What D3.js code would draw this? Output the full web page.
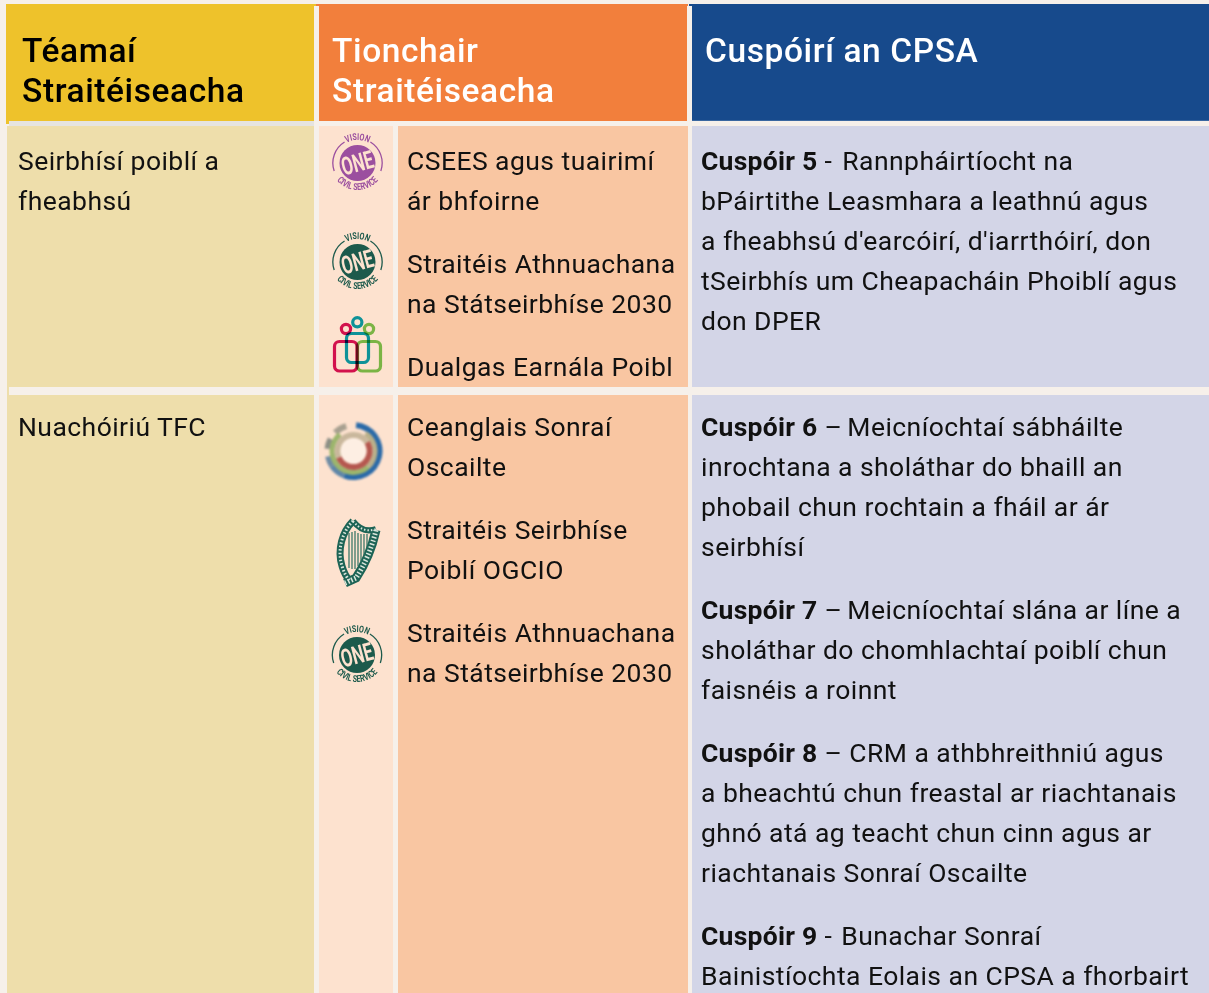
<!DOCTYPE html>
<html>
<head>
<meta charset="utf-8">
<script src="https://cdn.jsdelivr.net/npm/d3@7"></script>
<style>
  html, body { margin: 0; padding: 0; background: #f6f0ea; overflow: hidden; }
  text { font-family: Roboto, sans-serif; }
  .body-text { letter-spacing: 0.45px; }
  .head-text { letter-spacing: 0.6px; font-weight: 500; }
  .lead { font-weight: 700; letter-spacing: 0.25px; }
  .badge text { font-weight: 700; }
</style>
</head>
<body>
<svg id="chart" width="1209" height="993"></svg>
<script>
// table content, one small list per thing
const headers = [
  ["Téamaí", "Straitéiseacha"],
  ["Tionchair", "Straitéiseacha"],
  ["Cuspóirí an CPSA"]
];
const themes = [["Seirbhísí poiblí a", "fheabhsú"], ["Nuachóiriú TFC"]];
const impacts = [
  [["CSEES agus tuairimí", "ár bhfoirne"], ["Straitéis Athnuachana", "na Státseirbhíse 2030"], ["Dualgas Earnála Poibl"]],
  [["Ceanglais Sonraí", "Oscailte"], ["Straitéis Seirbhíse", "Poiblí OGCIO"], ["Straitéis Athnuachana", "na Státseirbhíse 2030"]]
];
const objectives = [
  [
    { bold: "Cuspóir 5", lines: [" - Rannpháirtíocht na", "bPáirtithe Leasmhara a leathnú agus", "a fheabhsú d'earcóirí, d'iarrthóirí, don", "tSeirbhís um Cheapacháin Phoiblí agus", "don DPER"] }
  ],
  [
    { bold: "Cuspóir 6", lines: [" – Meicníochtaí sábháilte", "inrochtana a sholáthar do bhaill an", "phobail chun rochtain a fháil ar ár", "seirbhísí"] },
    { bold: "Cuspóir 7", lines: [" – Meicníochtaí slána ar líne a", "sholáthar do chomhlachtaí poiblí chun", "faisnéis a roinnt"] },
    { bold: "Cuspóir 8", lines: [" – CRM a athbhreithniú agus", "a bheachtú chun freastal ar riachtanais", "ghnó atá ag teacht chun cinn agus ar", "riachtanais Sonraí Oscailte"] },
    { bold: "Cuspóir 9", lines: [" - Bunachar Sonraí", "Bainistíochta Eolais an CPSA a fhorbairt"] }
  ]
];

const headerFill = ["#eec22b", "#f27f3c", "#174a8c"];
const headerText = ["#000", "#fff", "#fff"];
const paper = "#f6f0ea", cellLight = "#fde2cf";
const lineH = 40, paraGap = 23;
// nudge after the bold lead, the dash spacing differs per paragraph
const leadNudge = [[3], [-2, -2, 0, 2]];

const svg = d3.select("#chart");
const defs = svg.append("defs");

function rect(x, y, w, h, fill) {
  svg.append("rect").attr("x", x).attr("y", y).attr("width", w).attr("height", h).attr("fill", fill);
}
function textLines(x, y, lines, size, fill, cls) {
  lines.forEach((l, i) => {
    svg.append("text").attr("class", cls).attr("x", x).attr("y", y + i * lineH)
      .attr("font-size", size).attr("fill", fill).text(l);
  });
}

// header cells
rect(6, 4, 312, 120, headerFill[0]);
rect(316, 4, 372, 117, headerFill[1]);
rect(689, 4, 520, 117, headerFill[2]);
rect(689, 120, 520, 1, "#3a67a0");
rect(314, 6, 5, 118, paper);
rect(687, 6, 5, 118, paper);
rect(9, 121, 305, 5, "#e6e4e0");

// body cells
[[126, 261], [395, 598]].forEach(([y, h]) => {
  rect(7, y, 307, h, "#eedeab");
  rect(319, y, 74, h, cellLight);
  rect(398, y, 290, h, "#f9c6a2");
  rect(692, y, 517, h, "#d3d5e7");
});
rect(7, 387, 2, 8, "#eedeab");

// header text
textLines(22, 62, headers[0], 33.5, headerText[0], "head-text");
textLines(332, 62, headers[1], 33.5, headerText[1], "head-text");
textLines(705, 62, headers[2], 33.5, headerText[2], "head-text");

// column 1
textLines(18, 170, themes[0], 26.5, "#111", "body-text");
textLines(18, 436, themes[1], 26.5, "#111", "body-text");

// column 2
const impactTops = [[170, 273, 376], [436, 539, 642]];
impacts.forEach((group, r) => group.forEach((lines, i) => {
  textLines(407, impactTops[r][i], lines, 26.5, "#111", "body-text");
}));

// column 3
const objectiveTops = [170, 436];
objectives.forEach((group, r) => {
  let y = objectiveTops[r];
  group.forEach((o, i) => {
    const t = svg.append("text").attr("class", "body-text").attr("x", 701).attr("y", y).attr("font-size", 26.5).attr("fill", "#111").attr("xml:space", "preserve");
    t.append("tspan").attr("class", "lead").text(o.bold);
    t.append("tspan").text(o.lines[0].slice(0, 3));
    t.append("tspan").attr("dx", leadNudge[r][i]).text(o.lines[0].slice(3));
    textLines(701, y + lineH, o.lines.slice(1), 26.5, "#111", "body-text");
    y += o.lines.length * lineH + paraGap;
  });
});

// icons
let badgeCount = 0;
function visionBadge(cx, cy, color) {
  const g = svg.append("g").attr("class", "badge").attr("transform", `translate(${cx},${cy})`);
  const arc = d3.arc().innerRadius(24).outerRadius(25.3);
  [[0.55, 1.9], [4.38, 5.73]].forEach(([a, b]) => {
    g.append("path").attr("d", arc({ startAngle: a, endAngle: b })).attr("fill", color);
  });
  g.append("circle").attr("r", 18).attr("fill", color);
  g.append("text").attr("text-anchor", "middle").attr("y", 8.5).attr("font-size", 25)
    .attr("fill", cellLight).attr("transform", "rotate(-15) scale(0.66,1)").text("ONE");
  const id = "badge" + (badgeCount++);
  defs.append("path").attr("id", id + "t").attr("d", "M-20,-11.4 A23,23 0 0 1 20,-11.4");
  defs.append("path").attr("id", id + "b").attr("d", "M-25,10.2 A27,27 0 0 0 25,10.2");
  g.append("text").attr("font-size", 9.5).attr("fill", color)
    .append("textPath").attr("href", "#" + id + "t").attr("startOffset", "50%").attr("text-anchor", "middle")
    .attr("textLength", 23).attr("lengthAdjust", "spacingAndGlyphs").text("VISION");
  g.append("text").attr("font-size", 9.5).attr("fill", color)
    .append("textPath").attr("href", "#" + id + "b").attr("startOffset", "50%").attr("text-anchor", "middle")
    .attr("textLength", 47).attr("lengthAdjust", "spacingAndGlyphs").text("CIVIL SERVICE");
}

function peopleIcon() {
  const g = svg.append("g").attr("fill", "none").attr("stroke-width", 3.2);
  const box = (x, y, w, h, c) => g.append("rect").attr("x", x).attr("y", y).attr("width", w).attr("height", h).attr("rx", 5)
    .attr("stroke", c).style("mix-blend-mode", "multiply");
  const dot = (cx, cy, c) => g.append("circle").attr("cx", cx).attr("cy", cy).attr("r", 4.6)
    .attr("stroke", c).style("mix-blend-mode", "multiply");
  box(346.5, 333.5, 22, 29, "#0ea5bb");
  box(334.5, 341.5, 22.5, 29.5, "#d4145f");
  box(357.5, 341.5, 23, 29.5, "#7ccb55");
  dot(346, 329, "#d4145f");
  dot(357.3, 322.3, "#0ea5bb");
  dot(369, 329, "#7ccb55");
}

function dataIcon(cx, cy) {
  const g = svg.append("g").attr("transform", `translate(${cx},${cy})`).style("filter", "blur(1px)");
  const ring = (r0, r1, a, b, c) => g.append("path").attr("d", d3.arc().innerRadius(r0).outerRadius(r1)({ startAngle: a, endAngle: b })).attr("fill", c);
  ring(23, 29, 0.1, 3.5, "#2a6aa8");
  ring(23, 29, 3.5, 4.1, "#5f86a8");
  ring(23, 29, 4.1, 4.5, "#6e8ba4");
  ring(23, 29, 4.8, 5.2, "#8d8f86");
  ring(23, 29, 5.5, 6.0, "#a8a090");
  ring(19, 24, 2.4, 5.6, "#9cb56c");
  ring(19, 24, 0.6, 2.4, "#b9b08a");
  ring(13, 19, 1.0, 4.3, "#b5574f");
  ring(13, 19, 4.3, 7.28, "#c9b79c");
  g.append("circle").attr("r", 13).attr("fill", "#fdeee3");
}

function harpIcon() {
  const g = svg.append("g").attr("fill", "none");
  const body = [
    { d: "M353,521 C342,532 337,550 342,566 C344,573 347,578 350,581", w: 7 },
    { d: "M353,521 C360,530 368,532 376,529", w: 6 },
    { d: "M376,530 C372,548 364,566 356,578 L345,583", w: 9 }
  ];
  body.forEach(p => g.append("path").attr("d", p.d).attr("stroke", "#1d6456").attr("stroke-width", p.w));
  body.forEach(p => g.append("path").attr("d", p.d).attr("stroke", "#dbe6dc").attr("stroke-width", p.w - 4).attr("stroke-dasharray", "1.5 2"));
  [[349, 533, 568], [352, 532, 569], [355, 531, 569], [358, 533, 566], [361, 534, 561], [364, 534, 556], [367, 534, 549]].forEach(([x, y1, y2]) => {
    g.append("line").attr("x1", x).attr("y1", y1).attr("x2", x).attr("y2", y2).attr("stroke", "#2c7060").attr("stroke-width", 1.2);
  });
}

visionBadge(357.5, 163, "#9b4f9f");
visionBadge(357.5, 262, "#1d5a4c");
peopleIcon();
dataIcon(353.5, 451);
harpIcon();
visionBadge(357, 655, "#1d5a4c");
</script>
</body>
</html>
